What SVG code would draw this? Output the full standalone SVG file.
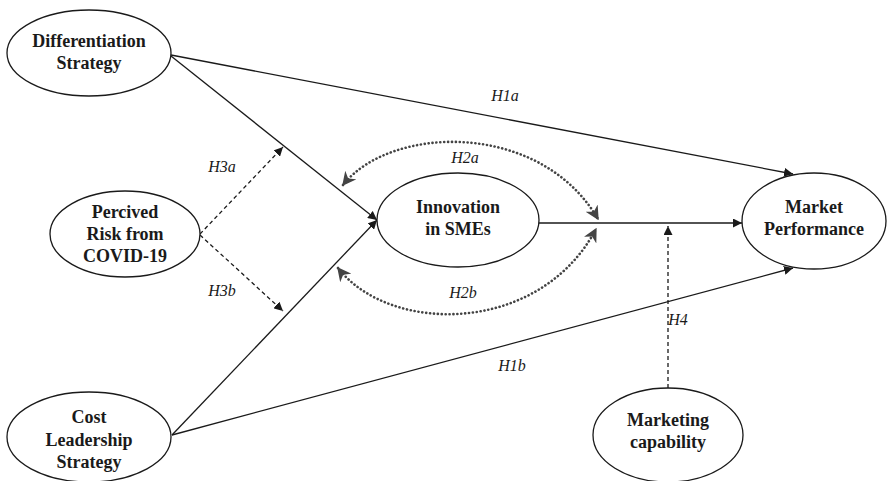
<svg xmlns="http://www.w3.org/2000/svg" width="889" height="481" viewBox="0 0 889 481">
<style>
.node ellipse{fill:#fff;stroke:#1a1a1a;stroke-width:1.3}
.node text{font-family:"Liberation Serif",serif;font-weight:bold;font-size:18px;fill:#1a1a1a;text-anchor:middle}
.lbl{font-family:"Liberation Serif",serif;font-style:italic;font-size:16px;fill:#1a1a1a;text-anchor:middle}
.solid{fill:none;stroke:#1a1a1a;stroke-width:1.3}
.dash{fill:none;stroke:#1a1a1a;stroke-width:1.3;stroke-dasharray:4 3}
.dot{fill:none;stroke:#444;stroke-width:2.6;stroke-dasharray:0.1 3.8;stroke-linecap:round}
</style>
<defs>
<marker id="ah" viewBox="0 0 10 10" refX="10" refY="5" markerWidth="9" markerHeight="9" markerUnits="userSpaceOnUse" orient="auto"><path d="M0,0 L10,5 L0,10 z" fill="#1a1a1a"/></marker>
<marker id="gh" viewBox="0 0 10 10" refX="9" refY="5" markerWidth="14" markerHeight="14" markerUnits="userSpaceOnUse" orient="auto-start-reverse"><path d="M0,0 L10,5 L0,10 L3,5 z" fill="#444"/></marker>
</defs>
<g id="connectors">
<line class="solid" x1="171" y1="55" x2="793" y2="174" marker-end="url(#ah)"/>
<line class="solid" x1="171" y1="56" x2="377" y2="220" marker-end="url(#ah)"/>
<line class="solid" x1="172" y1="435" x2="377" y2="220" marker-end="url(#ah)"/>
<line class="solid" x1="172" y1="435" x2="793" y2="268" marker-end="url(#ah)"/>
<line class="solid" x1="539" y1="223" x2="742" y2="223" marker-end="url(#ah)"/>
<line class="dash" x1="668" y1="388" x2="668" y2="226" marker-end="url(#ah)"/>
<line class="dash" x1="200" y1="234" x2="283" y2="147" marker-end="url(#ah)"/>
<line class="dash" x1="200" y1="235" x2="283" y2="311" marker-end="url(#ah)"/>
<path class="dot" d="M343,185 C390,125 540,120 598,219" marker-start="url(#gh)" marker-end="url(#gh)"/>
<path class="dot" d="M338,268 C390,335 540,335 596,229" marker-start="url(#gh)" marker-end="url(#gh)"/>
<text class="lbl" x="505" y="101">H1a</text>
<text class="lbl" x="465" y="163">H2a</text>
<text class="lbl" x="222" y="172">H3a</text>
<text class="lbl" x="222" y="296">H3b</text>
<text class="lbl" x="463" y="298">H2b</text>
<text class="lbl" x="512" y="371">H1b</text>
<text class="lbl" x="678" y="325">H4</text>
</g>
<g id="differentiation" class="node"><ellipse cx="89" cy="53" rx="82" ry="43"/><text x="89" y="47">Differentiation</text><text x="89" y="69">Strategy</text></g>
<g id="risk" class="node"><ellipse cx="125" cy="234" rx="75" ry="43"/><text x="125" y="218">Percived</text><text x="125" y="240">Risk from</text><text x="125" y="262">COVID-19</text></g>
<g id="cost" class="node"><ellipse cx="89" cy="437" rx="82" ry="45"/><text x="89" y="423">Cost</text><text x="89" y="446">Leadership</text><text x="89" y="468">Strategy</text></g>
<g id="innovation" class="node"><ellipse cx="458" cy="220" rx="81" ry="47"/><text x="458" y="213">Innovation</text><text x="458" y="235">in SMEs</text></g>
<g id="market" class="node"><ellipse cx="814" cy="221" rx="72" ry="48"/><text x="814" y="213">Market</text><text x="814" y="235">Performance</text></g>
<g id="capability" class="node"><ellipse cx="668" cy="435" rx="75" ry="47"/><text x="668" y="426">Marketing</text><text x="668" y="448">capability</text></g>
</svg>
